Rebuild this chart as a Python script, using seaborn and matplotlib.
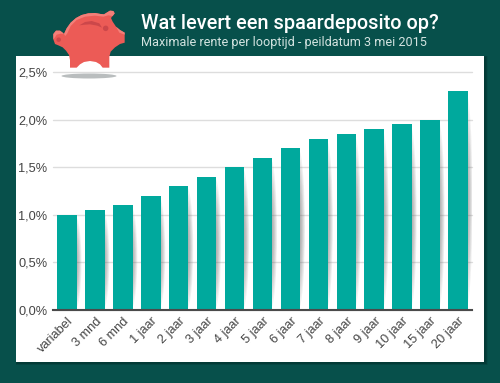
#!/usr/bin/env python3
import numpy as np
import matplotlib
matplotlib.use("Agg")
import matplotlib.pyplot as plt
import seaborn as sns
from matplotlib.patches import Ellipse, Polygon, Rectangle
from matplotlib.transforms import ScaledTranslation

# === DATA ===
looptijd = ["variabel", "3 mnd", "6 mnd", "1 jaar", "2 jaar", "3 jaar", "4 jaar", "5 jaar",
            "6 jaar", "7 jaar", "8 jaar", "9 jaar", "10 jaar", "15 jaar", "20 jaar"]
rente = [1.0, 1.05, 1.1, 1.2, 1.3, 1.4, 1.5, 1.6, 1.7, 1.8, 1.85, 1.9, 1.95, 2.0, 2.3]
y_ticks = [0, 0.5, 1.0, 1.5, 2.0, 2.5]
y_labels = ["0,0%", "0,5%", "1,0%", "1,5%", "2,0%", "2,5%"]
title = "Wat levert een spaardeposito op?"
subtitle = "Maximale rente per looptijd - peildatum 3 mei 2015"

BG = "#07504b"
BAR = "#00a99d"
W, H = 500, 383

sns.set_theme(style="white")
plt.rcParams["font.family"] = ["Liberation Sans", "DejaVu Sans"]

fig = plt.figure(figsize=(W / 100, H / 100), dpi=100, facecolor=BG)

# === BACKGROUND + PANEL ===
bg = fig.add_axes([0, 0, 1, 1], zorder=0)
bg.set_xlim(0, W)
bg.set_ylim(H, 0)
bg.axis("off")
for i in range(6):
    bg.add_patch(Rectangle((15.5 + i * 0.2, 56 + i * 0.2), 469 + (6 - i) * 0.5, 306 + (6 - i) * 0.5,
                           fc="#03312e", ec="none", alpha=0.16))
bg.add_patch(Rectangle((15.5, 56), 468.5, 306, fc="white", ec="none"))

# === CHART ===
ax = fig.add_axes([53 / W, (H - 310) / H, 419 / W, 238 / H], zorder=1)
ax.patch.set_alpha(0)
sns.barplot(x=looptijd, y=rente, color=BAR, saturation=1, width=0.7, linewidth=0, ax=ax, zorder=3)
ax.set_xlim(-0.5, len(looptijd) - 0.5)
ax.set_ylim(0, 2.5)
ax.set_yticks(y_ticks)
ax.set_yticklabels(y_labels)
ax.yaxis.grid(True, color="#dddddd", lw=1.0)
ax.set_axisbelow(True)
for gl in ax.yaxis.get_gridlines():
    gl.set_clip_on(False)
sns.despine(ax=ax, left=True, top=True, right=True)
ax.spines["bottom"].set_color("#4a4a4a")
ax.spines["bottom"].set_linewidth(1.5)
ax.spines["bottom"].set_zorder(5)
ax.tick_params(axis="y", length=0, pad=4, labelsize=9.2, labelcolor="#444444")
ax.tick_params(axis="x", length=0, pad=7, labelsize=9.2, labelcolor="#444444")
shift = ScaledTranslation(4.5 / 100, 0, fig.dpi_scale_trans)
for lab in ax.get_xticklabels():
    lab.set_rotation(45)
    lab.set_ha("right")
    lab.set_va("center")
    lab.set_rotation_mode("anchor")
    lab.set_transform(lab.get_transform() + shift)

# soft shadow to the right of every bar
for bar in list(ax.patches):
    xr = bar.get_x() + bar.get_width()
    h = bar.get_height()
    for k in range(7):
        ax.add_patch(Ellipse((xr - 0.06, h * 0.5), 0.46 - k * 0.05, h * (0.98 - k * 0.09),
                             fc="#666666", ec="none", alpha=0.09, zorder=2))

# === TITLES ===
top = fig.add_axes([0, 0, 1, 1], zorder=2)
top.set_xlim(0, W)
top.set_ylim(H, 0)
top.axis("off")
top.text(141, 29, title, color="white", fontsize=14.3, family="Roboto", fontweight="medium", va="baseline")
top.text(141, 46, subtitle, color="#d3e3e0", fontsize=9.05, family="Roboto", va="baseline")

# === PIGGY (decoration, traced in pixels) ===
top.add_patch(Ellipse((89, 76), 55, 5, fc="#b9bdbe", ec="none"))


def px(pts):
    return [(40 + x / 3, 10 + y / 3) for x, y in pts]


body = [(90, 173), (90, 150), (87, 135), (78, 122), (68, 112), (55, 106), (45, 102), (40, 88), (40, 72),
        (48, 62), (60, 62), (68, 68), (72, 72), (80, 55), (92, 38), (108, 24), (125, 15), (145, 10), (165, 9),
        (182, 12), (192, 13), (200, 8), (210, 2), (220, 3), (224, 10), (218, 18), (213, 24), (218, 35),
        (228, 50), (240, 60), (254, 68), (254, 85), (254, 98), (240, 102), (225, 112), (212, 125), (208, 140),
        (208, 173), (188, 173), (180, 163), (168, 156), (150, 153), (132, 156), (120, 163), (110, 173)]
top.add_patch(Polygon(px(body), fc="#ec5b56", ec="none"))
# lichter randje bovenop
top.add_patch(Polygon(px([(72, 72), (80, 55), (92, 38), (108, 24), (125, 15), (145, 10), (165, 9), (182, 12),
                          (192, 13), (200, 8), (210, 2), (220, 3), (224, 10), (218, 18), (205, 16), (190, 20),
                          (165, 17), (135, 20), (110, 30), (92, 48), (82, 70), (76, 78)]), fc="#f37f79", ec="none"))
top.add_patch(Polygon(px([(40, 88), (40, 72), (48, 62), (60, 62), (68, 68), (72, 72), (62, 71), (50, 74), (45, 82)]),
                      fc="#f37f79", ec="none"))
top.add_patch(Polygon(px([(228, 50), (240, 60), (254, 68), (254, 74), (238, 68)]), fc="#f37f79", ec="none"))
top.add_patch(Polygon(px([(118, 46), (135, 36), (155, 33), (178, 40), (186, 53), (172, 47), (150, 43), (135, 44)]),
                      fc="#cc474a", ec="none"))
top.add_patch(Ellipse((40 + 197 / 3, 10 + 55 / 3), 5.5, 5.5, fc="#cc474a", ec="none"))
top.add_patch(Ellipse((40 + 56 / 3, 10 + 89 / 3), 4.5, 4.5, fc="#cc474a", ec="none"))

fig.savefig("out.png", dpi=100, facecolor=BG)
